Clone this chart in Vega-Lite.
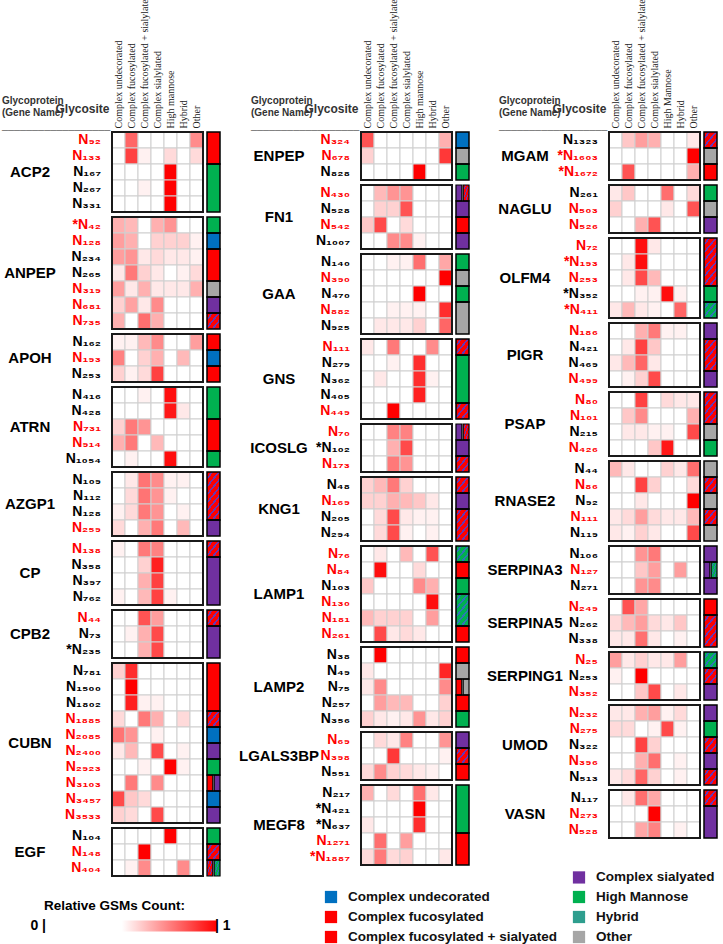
{
"$schema": "https://vega.github.io/schema/vega-lite/v6.json",
"padding": {"left": 2, "top": -7, "right": 2, "bottom": 0},
"background": "white",
"spacing": 17,
"config": {
 "font": "Liberation Sans",
 "view": {"stroke": null},
 "header": {"labels": false, "title": null},
 "legend": {"labelFont": "Liberation Sans", "titleFont": "Liberation Sans"}
},
"datasets": {"sites": [
{"col":1,"protein":"ACP2","site":"N₉₂","hl":true,"u":0,"f":0.78,"fs":0,"s":0,"m":0,"h":0,"o":0.7,"cls":"Complex fucosylated","to":"N₁₃₃"},
{"col":1,"protein":"ACP2","site":"N₁₃₃","hl":true,"u":0,"f":0.86,"fs":0.48,"s":0,"m":0.53,"h":0,"o":0.53,"cls":"Complex fucosylated"},
{"col":1,"protein":"ACP2","site":"N₁₆₇","hl":false,"u":0,"f":0,"fs":0,"s":0,"m":1,"h":0,"o":0,"cls":"High Mannose","to":"N₃₃₁"},
{"col":1,"protein":"ACP2","site":"N₂₆₇","hl":false,"u":0,"f":0,"fs":0.48,"s":0,"m":1,"h":0,"o":0,"cls":"High Mannose"},
{"col":1,"protein":"ACP2","site":"N₃₃₁","hl":false,"u":0,"f":0,"fs":0,"s":0,"m":1,"h":0,"o":0,"cls":"High Mannose"},
{"col":1,"protein":"ANPEP","site":"*N₄₂","hl":true,"u":0.62,"f":0.6,"fs":0,"s":0.62,"m":0.68,"h":0,"o":0,"cls":"High Mannose","to":"*N₄₂"},
{"col":1,"protein":"ANPEP","site":"N₁₂₈","hl":true,"u":0.66,"f":0.62,"fs":0,"s":0.55,"m":0.55,"h":0.55,"o":0.48,"cls":"Complex undecorated","to":"N₁₂₈"},
{"col":1,"protein":"ANPEP","site":"N₂₃₄","hl":false,"u":0.66,"f":0.68,"fs":0.5,"s":0.53,"m":0.5,"h":0.5,"o":0.48,"cls":"Complex fucosylated","to":"N₂₆₅"},
{"col":1,"protein":"ANPEP","site":"N₂₆₅","hl":false,"u":0.5,"f":0.74,"fs":0.55,"s":0.5,"m":0,"h":0.48,"o":0.53,"cls":"Complex fucosylated"},
{"col":1,"protein":"ANPEP","site":"N₃₁₉","hl":true,"u":0.66,"f":0.5,"fs":0.62,"s":0.5,"m":0.5,"h":0.5,"o":0.62,"cls":"Other","to":"N₃₁₉"},
{"col":1,"protein":"ANPEP","site":"N₆₈₁","hl":true,"u":0.55,"f":0.65,"fs":0.5,"s":0.7,"m":0,"h":0,"o":0,"cls":"Complex sialyated","to":"N₆₈₁"},
{"col":1,"protein":"ANPEP","site":"N₇₃₅","hl":true,"u":0.62,"f":0,"fs":0.76,"s":0.62,"m":0,"h":0,"o":0,"cls":"Complex fucosylated + sialyated","to":"N₇₃₅"},
{"col":1,"protein":"APOH","site":"N₁₆₂","hl":false,"u":0.48,"f":0.48,"fs":0.6,"s":0.7,"m":0,"h":0,"o":0.66,"cls":"Complex fucosylated","to":"N₁₆₂"},
{"col":1,"protein":"APOH","site":"N₁₉₃","hl":true,"u":0.72,"f":0,"fs":0.55,"s":0.62,"m":0,"h":0.6,"o":0,"cls":"Complex undecorated","to":"N₁₉₃"},
{"col":1,"protein":"APOH","site":"N₂₅₃","hl":false,"u":0.55,"f":0.48,"fs":0.53,"s":0.86,"m":0,"h":0,"o":0,"cls":"Complex fucosylated","to":"N₂₅₃"},
{"col":1,"protein":"ATRN","site":"N₄₁₆","hl":false,"u":0,"f":0,"fs":0.48,"s":0,"m":0.97,"h":0,"o":0,"cls":"High Mannose","to":"N₄₂₈"},
{"col":1,"protein":"ATRN","site":"N₄₂₈","hl":false,"u":0,"f":0,"fs":0,"s":0,"m":0.95,"h":0.5,"o":0,"cls":"High Mannose"},
{"col":1,"protein":"ATRN","site":"N₇₃₁","hl":true,"u":0.55,"f":0.74,"fs":0.68,"s":0,"m":0,"h":0,"o":0,"cls":"Complex fucosylated","to":"N₉₁₄"},
{"col":1,"protein":"ATRN","site":"N₉₁₄","hl":true,"u":0.62,"f":0.74,"fs":0,"s":0.6,"m":0,"h":0,"o":0,"cls":"Complex fucosylated"},
{"col":1,"protein":"ATRN","site":"N₁₀₅₄","hl":false,"u":0,"f":0.48,"fs":0,"s":0,"m":0.97,"h":0,"o":0,"cls":"High Mannose","to":"N₁₀₅₄"},
{"col":1,"protein":"AZGP1","site":"N₁₀₉","hl":false,"u":0,"f":0.5,"fs":0.75,"s":0.7,"m":0.48,"h":0.48,"o":0,"cls":"Complex fucosylated + sialyated","to":"N₁₂₈"},
{"col":1,"protein":"AZGP1","site":"N₁₁₂","hl":false,"u":0,"f":0.53,"fs":0.75,"s":0.68,"m":0.48,"h":0,"o":0,"cls":"Complex fucosylated + sialyated"},
{"col":1,"protein":"AZGP1","site":"N₁₂₈","hl":false,"u":0.48,"f":0.53,"fs":0.74,"s":0.68,"m":0,"h":0.48,"o":0,"cls":"Complex fucosylated + sialyated"},
{"col":1,"protein":"AZGP1","site":"N₂₅₉","hl":true,"u":0.53,"f":0,"fs":0.62,"s":0.74,"m":0,"h":0.6,"o":0,"cls":"Complex sialyated","to":"N₂₅₉"},
{"col":1,"protein":"CP","site":"N₁₃₈","hl":true,"u":0.48,"f":0,"fs":0.74,"s":0.72,"m":0,"h":0,"o":0,"cls":"Complex fucosylated + sialyated","to":"N₁₃₈"},
{"col":1,"protein":"CP","site":"N₃₅₈","hl":false,"u":0,"f":0,"fs":0.55,"s":0.93,"m":0,"h":0,"o":0,"cls":"Complex sialyated","to":"N₇₆₂"},
{"col":1,"protein":"CP","site":"N₃₉₇","hl":false,"u":0,"f":0,"fs":0.62,"s":0.86,"m":0,"h":0,"o":0,"cls":"Complex sialyated"},
{"col":1,"protein":"CP","site":"N₇₆₂","hl":false,"u":0.48,"f":0,"fs":0.6,"s":0.86,"m":0.48,"h":0,"o":0,"cls":"Complex sialyated"},
{"col":1,"protein":"CPB2","site":"N₄₄","hl":true,"u":0,"f":0,"fs":0.82,"s":0.66,"m":0,"h":0,"o":0,"cls":"Complex fucosylated + sialyated","to":"N₄₄"},
{"col":1,"protein":"CPB2","site":"N₇₃","hl":false,"u":0,"f":0.48,"fs":0.62,"s":0.84,"m":0,"h":0,"o":0,"cls":"Complex sialyated","to":"*N₂₃₅"},
{"col":1,"protein":"CPB2","site":"*N₂₃₅","hl":false,"u":0,"f":0,"fs":0.62,"s":0.84,"m":0,"h":0,"o":0,"cls":"Complex sialyated"},
{"col":1,"protein":"CUBN","site":"N₇₈₁","hl":false,"u":0.55,"f":0.9,"fs":0,"s":0,"m":0,"h":0,"o":0,"cls":"Complex fucosylated","to":"N₁₈₀₂"},
{"col":1,"protein":"CUBN","site":"N₁₅₀₀","hl":false,"u":0,"f":1,"fs":0,"s":0,"m":0,"h":0,"o":0,"cls":"Complex fucosylated"},
{"col":1,"protein":"CUBN","site":"N₁₈₀₂","hl":false,"u":0,"f":0.93,"fs":0.48,"s":0.48,"m":0,"h":0,"o":0,"cls":"Complex fucosylated"},
{"col":1,"protein":"CUBN","site":"N₁₈₈₅","hl":true,"u":0.53,"f":0,"fs":0.74,"s":0.62,"m":0,"h":0.53,"o":0,"cls":"Complex fucosylated + sialyated","to":"N₁₈₈₅"},
{"col":1,"protein":"CUBN","site":"N₂₀₈₅","hl":true,"u":0.75,"f":0.68,"fs":0,"s":0.48,"m":0,"h":0,"o":0,"cls":"Complex undecorated","to":"N₂₀₈₅"},
{"col":1,"protein":"CUBN","site":"N₂₄₀₀","hl":true,"u":0.5,"f":0.6,"fs":0,"s":0.84,"m":0,"h":0.48,"o":0,"cls":"Complex sialyated","to":"N₂₄₀₀"},
{"col":1,"protein":"CUBN","site":"N₂₉₂₃","hl":true,"u":0,"f":0,"fs":0.48,"s":0,"m":1,"h":0.48,"o":0,"cls":"High Mannose","to":"N₂₉₂₃"},
{"col":1,"protein":"CUBN","site":"N₃₁₀₃","hl":true,"u":0,"f":0.74,"fs":0,"s":0.7,"m":0,"h":0,"o":0,"cls":"Complex fucosylated","cls2":"Complex sialyated"},
{"col":1,"protein":"CUBN","site":"N₃₄₅₇","hl":true,"u":0.84,"f":0.57,"fs":0.53,"s":0,"m":0,"h":0,"o":0,"cls":"Complex undecorated","to":"N₃₄₅₇"},
{"col":1,"protein":"CUBN","site":"N₃₅₃₃","hl":true,"u":0.55,"f":0.53,"fs":0,"s":0.84,"m":0,"h":0,"o":0,"cls":"Complex sialyated","to":"N₃₅₃₃"},
{"col":1,"protein":"EGF","site":"N₁₀₄","hl":false,"u":0,"f":0,"fs":0,"s":0,"m":1,"h":0,"o":0,"cls":"High Mannose","to":"N₁₀₄"},
{"col":1,"protein":"EGF","site":"N₁₄₈","hl":true,"u":0,"f":0,"fs":1,"s":0,"m":0,"h":0,"o":0,"cls":"Complex fucosylated + sialyated","to":"N₁₄₈"},
{"col":1,"protein":"EGF","site":"N₄₀₄","hl":true,"u":0,"f":0.48,"fs":0.7,"s":0,"m":0,"h":0.7,"o":0,"cls":"Complex fucosylated + sialyated","cls2":"Hybrid"},
{"col":2,"protein":"ENPEP","site":"N₃₂₄","hl":true,"u":0.82,"f":0,"fs":0,"s":0,"m":0,"h":0,"o":0.62,"cls":"Complex undecorated","to":"N₃₂₄"},
{"col":2,"protein":"ENPEP","site":"N₆₇₈","hl":true,"u":0.55,"f":0,"fs":0,"s":0,"m":0,"h":0,"o":0.88,"cls":"Other","to":"N₆₇₈"},
{"col":2,"protein":"ENPEP","site":"N₈₂₈","hl":false,"u":0,"f":0,"fs":0,"s":0,"m":1,"h":0,"o":0,"cls":"High Mannose","to":"N₈₂₈"},
{"col":2,"protein":"FN1","site":"N₄₃₀","hl":true,"u":0,"f":0.6,"fs":0.68,"s":0.68,"m":0,"h":0,"o":0,"cls":"Complex sialyated","cls2":"Complex fucosylated + sialyated"},
{"col":2,"protein":"FN1","site":"N₅₂₈","hl":false,"u":0,"f":0.55,"fs":0.55,"s":0.82,"m":0,"h":0,"o":0,"cls":"Complex sialyated","to":"N₅₂₈"},
{"col":2,"protein":"FN1","site":"N₅₄₂","hl":true,"u":0.57,"f":0.84,"fs":0,"s":0.53,"m":0,"h":0,"o":0,"cls":"Complex fucosylated","to":"N₅₄₂"},
{"col":2,"protein":"FN1","site":"N₁₀₀₇","hl":false,"u":0,"f":0,"fs":0.7,"s":0.7,"m":0.48,"h":0,"o":0,"cls":"Complex sialyated","to":"N₁₀₀₇"},
{"col":2,"protein":"GAA","site":"N₁₄₀","hl":false,"u":0,"f":0,"fs":0.48,"s":0.48,"m":0.76,"h":0,"o":0.64,"cls":"High Mannose","to":"N₁₄₀"},
{"col":2,"protein":"GAA","site":"N₃₉₀","hl":true,"u":0,"f":0,"fs":0,"s":0,"m":0,"h":0,"o":1,"cls":"Other","to":"N₃₉₀"},
{"col":2,"protein":"GAA","site":"N₄₇₀","hl":false,"u":0,"f":0,"fs":0,"s":0,"m":1,"h":0,"o":0,"cls":"High Mannose","to":"N₄₇₀"},
{"col":2,"protein":"GAA","site":"N₈₈₂","hl":true,"u":0,"f":0,"fs":0.48,"s":0.48,"m":0.48,"h":0,"o":0.9,"cls":"Other","to":"N₉₂₅"},
{"col":2,"protein":"GAA","site":"N₉₂₅","hl":false,"u":0,"f":0.5,"fs":0.5,"s":0.5,"m":0.55,"h":0,"o":0.78,"cls":"Other"},
{"col":2,"protein":"GNS","site":"N₁₁₁","hl":true,"u":0.5,"f":0,"fs":0.74,"s":0,"m":0,"h":0.7,"o":0,"cls":"Complex fucosylated + sialyated","to":"N₁₁₁"},
{"col":2,"protein":"GNS","site":"N₂₇₉","hl":false,"u":0,"f":0,"fs":0.48,"s":0,"m":0.9,"h":0,"o":0,"cls":"High Mannose","to":"N₄₀₅"},
{"col":2,"protein":"GNS","site":"N₃₆₂","hl":false,"u":0,"f":0.5,"fs":0,"s":0,"m":0.9,"h":0.48,"o":0,"cls":"High Mannose"},
{"col":2,"protein":"GNS","site":"N₄₀₅","hl":false,"u":0,"f":0,"fs":0,"s":0,"m":0.93,"h":0,"o":0,"cls":"High Mannose"},
{"col":2,"protein":"GNS","site":"N₄₄₉","hl":true,"u":0,"f":0,"fs":1,"s":0,"m":0,"h":0,"o":0,"cls":"Complex fucosylated + sialyated","to":"N₄₄₉"},
{"col":2,"protein":"ICOSLG","site":"N₇₀","hl":true,"u":0,"f":0,"fs":0.72,"s":0.72,"m":0,"h":0,"o":0,"cls":"Complex sialyated","cls2":"Complex fucosylated + sialyated"},
{"col":2,"protein":"ICOSLG","site":"*N₁₀₂","hl":false,"u":0,"f":0,"fs":0.62,"s":0.84,"m":0,"h":0,"o":0,"cls":"Complex sialyated","to":"*N₁₀₂"},
{"col":2,"protein":"ICOSLG","site":"N₁₇₃","hl":true,"u":0,"f":0,"fs":0.74,"s":0.68,"m":0,"h":0,"o":0,"cls":"Complex fucosylated + sialyated","to":"N₁₇₃"},
{"col":2,"protein":"KNG1","site":"N₄₈","hl":false,"u":0.55,"f":0.6,"fs":0.74,"s":0.55,"m":0,"h":0,"o":0,"cls":"Complex fucosylated + sialyated","to":"N₄₈"},
{"col":2,"protein":"KNG1","site":"N₁₆₉","hl":true,"u":0.55,"f":0.55,"fs":0.62,"s":0.6,"m":0.57,"h":0.5,"o":0,"cls":"Complex sialyated","to":"N₁₆₉"},
{"col":2,"protein":"KNG1","site":"N₂₀₅","hl":false,"u":0,"f":0.53,"fs":0.84,"s":0.5,"m":0.48,"h":0.48,"o":0,"cls":"Complex fucosylated + sialyated","to":"N₂₉₄"},
{"col":2,"protein":"KNG1","site":"N₂₉₄","hl":false,"u":0,"f":0.53,"fs":0.84,"s":0.48,"m":0,"h":0.48,"o":0,"cls":"Complex fucosylated + sialyated"},
{"col":2,"protein":"LAMP1","site":"N₇₆","hl":true,"u":0,"f":0.5,"fs":0,"s":0.6,"m":0,"h":0.82,"o":0,"cls":"Hybrid","to":"N₇₆"},
{"col":2,"protein":"LAMP1","site":"N₈₄","hl":true,"u":0,"f":0.97,"fs":0,"s":0,"m":0.53,"h":0,"o":0,"cls":"Complex fucosylated","to":"N₈₄"},
{"col":2,"protein":"LAMP1","site":"N₁₀₃","hl":false,"u":0.57,"f":0,"fs":0,"s":0,"m":0.7,"h":0.62,"o":0,"cls":"High Mannose","to":"N₁₀₃"},
{"col":2,"protein":"LAMP1","site":"N₁₃₀","hl":true,"u":0,"f":0,"fs":0,"s":0,"m":0,"h":0.97,"o":0,"cls":"Hybrid","to":"N₁₈₁"},
{"col":2,"protein":"LAMP1","site":"N₁₈₁","hl":true,"u":0.6,"f":0.55,"fs":0.55,"s":0.55,"m":0,"h":0.66,"o":0,"cls":"Hybrid"},
{"col":2,"protein":"LAMP1","site":"N₂₆₁","hl":true,"u":0,"f":0.84,"fs":0.5,"s":0.53,"m":0.5,"h":0,"o":0,"cls":"Complex fucosylated","to":"N₂₆₁"},
{"col":2,"protein":"LAMP2","site":"N₃₈","hl":false,"u":0,"f":1,"fs":0,"s":0,"m":0,"h":0,"o":0,"cls":"Complex fucosylated","to":"N₃₈"},
{"col":2,"protein":"LAMP2","site":"N₄₉","hl":false,"u":0.5,"f":0,"fs":0,"s":0,"m":0,"h":0,"o":0.92,"cls":"Other","to":"N₄₉"},
{"col":2,"protein":"LAMP2","site":"N₇₅","hl":false,"u":0.5,"f":0.7,"fs":0,"s":0,"m":0,"h":0,"o":0.7,"cls":"Complex fucosylated","cls2":"Other"},
{"col":2,"protein":"LAMP2","site":"N₂₅₇","hl":false,"u":0,"f":0.66,"fs":0.6,"s":0.6,"m":0,"h":0,"o":0.55,"cls":"Complex fucosylated","to":"N₂₅₇"},
{"col":2,"protein":"LAMP2","site":"N₃₅₆","hl":false,"u":0.55,"f":0.5,"fs":0.48,"s":0.5,"m":0.68,"h":0.5,"o":0.55,"cls":"High Mannose","to":"N₃₅₆"},
{"col":2,"protein":"LGALS3BP","site":"N₆₉","hl":true,"u":0,"f":0.53,"fs":0.5,"s":0.72,"m":0,"h":0,"o":0.68,"cls":"Complex sialyated","to":"N₆₉"},
{"col":2,"protein":"LGALS3BP","site":"N₃₉₈","hl":true,"u":0,"f":0,"fs":0.88,"s":0,"m":0,"h":0,"o":0.48,"cls":"Complex fucosylated + sialyated","to":"N₃₉₈"},
{"col":2,"protein":"LGALS3BP","site":"N₅₅₁","hl":false,"u":0.53,"f":0.7,"fs":0.55,"s":0.53,"m":0.5,"h":0.48,"o":0,"cls":"Complex fucosylated","to":"N₅₅₁"},
{"col":2,"protein":"MEGF8","site":"N₂₁₇","hl":false,"u":0.62,"f":0,"fs":0.53,"s":0,"m":0.76,"h":0.5,"o":0,"cls":"High Mannose","to":"*N₆₃₇"},
{"col":2,"protein":"MEGF8","site":"*N₄₂₁","hl":false,"u":0,"f":0,"fs":0,"s":0,"m":1,"h":0,"o":0,"cls":"High Mannose"},
{"col":2,"protein":"MEGF8","site":"*N₆₃₇","hl":false,"u":0.5,"f":0,"fs":0,"s":0,"m":0.9,"h":0,"o":0,"cls":"High Mannose"},
{"col":2,"protein":"MEGF8","site":"N₁₂₇₁","hl":true,"u":0,"f":0.76,"fs":0,"s":0.66,"m":0,"h":0,"o":0,"cls":"Complex fucosylated","to":"*N₁₈₈₇"},
{"col":2,"protein":"MEGF8","site":"*N₁₈₈₇","hl":true,"u":0.53,"f":0.74,"fs":0.53,"s":0.55,"m":0,"h":0,"o":0.5,"cls":"Complex fucosylated"},
{"col":3,"protein":"MGAM","site":"N₁₃₂₃","hl":false,"u":0,"f":0.57,"fs":0.66,"s":0.62,"m":0,"h":0,"o":0.5,"cls":"Complex fucosylated + sialyated","to":"N₁₃₂₃"},
{"col":3,"protein":"MGAM","site":"*N₁₆₀₃","hl":true,"u":0,"f":0,"fs":0,"s":0,"m":0,"h":0,"o":1,"cls":"Other","to":"*N₁₆₀₃"},
{"col":3,"protein":"MGAM","site":"*N₁₆₇₂","hl":true,"u":0,"f":0.82,"fs":0,"s":0,"m":0,"h":0,"o":0.62,"cls":"Complex fucosylated","to":"*N₁₆₇₂"},
{"col":3,"protein":"NAGLU","site":"N₂₆₁","hl":false,"u":0.5,"f":0.57,"fs":0,"s":0,"m":0.76,"h":0,"o":0.53,"cls":"High Mannose","to":"N₂₆₁"},
{"col":3,"protein":"NAGLU","site":"N₅₀₃","hl":true,"u":0.55,"f":0,"fs":0,"s":0,"m":0.5,"h":0,"o":0.82,"cls":"Other","to":"N₅₀₃"},
{"col":3,"protein":"NAGLU","site":"N₅₂₆","hl":true,"u":0,"f":0,"fs":0.62,"s":0.82,"m":0,"h":0,"o":0,"cls":"Complex sialyated","to":"N₅₂₆"},
{"col":3,"protein":"OLFM4","site":"N₇₂","hl":true,"u":0,"f":0,"fs":0.97,"s":0.5,"m":0,"h":0,"o":0,"cls":"Complex fucosylated + sialyated","to":"N₂₅₃"},
{"col":3,"protein":"OLFM4","site":"*N₁₉₃","hl":true,"u":0,"f":0.5,"fs":0.97,"s":0,"m":0,"h":0,"o":0,"cls":"Complex fucosylated + sialyated"},
{"col":3,"protein":"OLFM4","site":"N₂₅₃","hl":true,"u":0,"f":0.5,"fs":0.84,"s":0.6,"m":0,"h":0,"o":0,"cls":"Complex fucosylated + sialyated"},
{"col":3,"protein":"OLFM4","site":"*N₃₅₂","hl":false,"u":0,"f":0,"fs":0.48,"s":0.48,"m":0.97,"h":0.48,"o":0,"cls":"High Mannose","to":"*N₃₅₂"},
{"col":3,"protein":"OLFM4","site":"*N₄₁₁","hl":true,"u":0.5,"f":0.6,"fs":0.5,"s":0.48,"m":0,"h":0.78,"o":0,"cls":"Hybrid","to":"*N₄₁₁"},
{"col":3,"protein":"PIGR","site":"N₁₈₆","hl":true,"u":0,"f":0,"fs":0.62,"s":0.74,"m":0.48,"h":0.48,"o":0,"cls":"Complex sialyated","to":"N₁₈₆"},
{"col":3,"protein":"PIGR","site":"N₄₂₁","hl":false,"u":0,"f":0.5,"fs":0.86,"s":0.57,"m":0,"h":0,"o":0,"cls":"Complex fucosylated + sialyated","to":"N₄₆₉"},
{"col":3,"protein":"PIGR","site":"N₄₆₉","hl":false,"u":0.5,"f":0.6,"fs":0.78,"s":0.5,"m":0,"h":0,"o":0,"cls":"Complex fucosylated + sialyated"},
{"col":3,"protein":"PIGR","site":"N₄₉₉","hl":true,"u":0,"f":0.48,"fs":0.55,"s":0.84,"m":0,"h":0,"o":0,"cls":"Complex sialyated","to":"N₄₉₉"},
{"col":3,"protein":"PSAP","site":"N₈₀","hl":true,"u":0,"f":0,"fs":0.86,"s":0,"m":0.53,"h":0.5,"o":0.5,"cls":"Complex fucosylated + sialyated","to":"N₁₀₁"},
{"col":3,"protein":"PSAP","site":"N₁₀₁","hl":true,"u":0,"f":0.57,"fs":0.7,"s":0,"m":0,"h":0,"o":0.62,"cls":"Complex fucosylated + sialyated"},
{"col":3,"protein":"PSAP","site":"N₂₁₅","hl":false,"u":0,"f":0.5,"fs":0.5,"s":0.48,"m":0.48,"h":0,"o":0.84,"cls":"Other","to":"N₂₁₅"},
{"col":3,"protein":"PSAP","site":"N₄₂₆","hl":true,"u":0,"f":0,"fs":0,"s":0.57,"m":0.95,"h":0,"o":0,"cls":"High Mannose","to":"N₄₂₆"},
{"col":3,"protein":"RNASE2","site":"N₄₄","hl":false,"u":0.6,"f":0.5,"fs":0,"s":0,"m":0.55,"h":0.5,"o":0.76,"cls":"Other","to":"N₄₄"},
{"col":3,"protein":"RNASE2","site":"N₈₆","hl":true,"u":0,"f":0,"fs":0.86,"s":0.55,"m":0,"h":0,"o":0.53,"cls":"Complex fucosylated + sialyated","to":"N₈₆"},
{"col":3,"protein":"RNASE2","site":"N₉₂","hl":false,"u":0,"f":0,"fs":0.5,"s":0,"m":0,"h":0,"o":1,"cls":"Other","to":"N₉₂"},
{"col":3,"protein":"RNASE2","site":"N₁₁₁","hl":true,"u":0.5,"f":0.53,"fs":0.66,"s":0.53,"m":0.5,"h":0.5,"o":0.6,"cls":"Complex fucosylated + sialyated","to":"N₁₁₁"},
{"col":3,"protein":"RNASE2","site":"N₁₁₉","hl":false,"u":0.5,"f":0.48,"fs":0.55,"s":0.5,"m":0,"h":0,"o":0.84,"cls":"Other","to":"N₁₁₉"},
{"col":3,"protein":"SERPINA3","site":"N₁₀₆","hl":false,"u":0,"f":0,"fs":0.68,"s":0.74,"m":0,"h":0,"o":0,"cls":"Complex sialyated","to":"N₁₀₆"},
{"col":3,"protein":"SERPINA3","site":"N₁₂₇","hl":true,"u":0,"f":0,"fs":0.57,"s":0.66,"m":0,"h":0.66,"o":0,"cls":"Complex sialyated","cls2":"Hybrid"},
{"col":3,"protein":"SERPINA3","site":"N₂₇₁","hl":false,"u":0,"f":0,"fs":0.68,"s":0.7,"m":0,"h":0,"o":0,"cls":"Complex sialyated","to":"N₂₇₁"},
{"col":3,"protein":"SERPINA5","site":"N₂₄₉","hl":true,"u":0,"f":0.82,"fs":0.64,"s":0,"m":0,"h":0,"o":0,"cls":"Complex fucosylated","to":"N₂₄₉"},
{"col":3,"protein":"SERPINA5","site":"N₂₆₂","hl":false,"u":0.53,"f":0.6,"fs":0.66,"s":0.53,"m":0.5,"h":0.57,"o":0,"cls":"Complex fucosylated + sialyated","to":"N₃₃₈"},
{"col":3,"protein":"SERPINA5","site":"N₃₃₈","hl":false,"u":0.5,"f":0.5,"fs":0.76,"s":0.5,"m":0,"h":0.48,"o":0,"cls":"Complex fucosylated + sialyated"},
{"col":3,"protein":"SERPING1","site":"N₂₅","hl":true,"u":0.66,"f":0.5,"fs":0.55,"s":0.5,"m":0.5,"h":0.66,"o":0,"cls":"Hybrid","to":"N₂₅"},
{"col":3,"protein":"SERPING1","site":"N₂₅₃","hl":false,"u":0.48,"f":0,"fs":1,"s":0,"m":0,"h":0,"o":0,"cls":"Complex fucosylated + sialyated","to":"N₂₅₃"},
{"col":3,"protein":"SERPING1","site":"N₃₅₂","hl":true,"u":0,"f":0,"fs":0.57,"s":0.84,"m":0,"h":0.5,"o":0,"cls":"Complex sialyated","to":"N₃₅₂"},
{"col":3,"protein":"UMOD","site":"N₂₃₂","hl":true,"u":0.5,"f":0.5,"fs":0.62,"s":0.66,"m":0.48,"h":0.53,"o":0,"cls":"Complex sialyated","to":"N₂₃₂"},
{"col":3,"protein":"UMOD","site":"N₂₇₅","hl":true,"u":0.53,"f":0.53,"fs":0,"s":0.48,"m":0.84,"h":0.48,"o":0,"cls":"High Mannose","to":"N₂₇₅"},
{"col":3,"protein":"UMOD","site":"N₃₂₂","hl":false,"u":0,"f":0,"fs":0.86,"s":0.55,"m":0,"h":0,"o":0,"cls":"Complex fucosylated + sialyated","to":"N₃₂₂"},
{"col":3,"protein":"UMOD","site":"N₃₉₆","hl":true,"u":0,"f":0,"fs":0.62,"s":0.76,"m":0,"h":0.48,"o":0,"cls":"Complex sialyated","to":"N₃₉₆"},
{"col":3,"protein":"UMOD","site":"N₅₁₃","hl":false,"u":0.5,"f":0.53,"fs":0.78,"s":0.55,"m":0,"h":0.48,"o":0,"cls":"Complex fucosylated + sialyated","to":"N₅₁₃"},
{"col":3,"protein":"VASN","site":"N₁₁₇","hl":false,"u":0,"f":0.5,"fs":0.76,"s":0.64,"m":0,"h":0,"o":0,"cls":"Complex fucosylated + sialyated","to":"N₁₁₇"},
{"col":3,"protein":"VASN","site":"N₂₇₃","hl":true,"u":0,"f":0,"fs":0,"s":1,"m":0,"h":0,"o":0,"cls":"Complex sialyated","to":"N₅₂₈"},
{"col":3,"protein":"VASN","site":"N₅₂₈","hl":true,"u":0,"f":0,"fs":0.64,"s":0.72,"m":0,"h":0.48,"o":0,"cls":"Complex sialyated"}
]},
"hconcat": [
 {"data": {"name": "sites"}, "transform": [{"filter": "datum.col == 1"}],
  "title": {"text": ["Glycoprotein", "(Gene Name)"], "subtitle": "──────────────────", "anchor": "start", "frame": "group", "fontSize": 10, "fontWeight": "bold", "color": "#333", "lineHeight": 12, "subtitleFont": "DejaVu Sans", "subtitleFontSize": 10, "subtitleColor": "#777", "subtitlePadding": 8, "dx": -110, "dy": 142, "offset": 0},
  "facet": {"row": {"field": "protein", "type": "nominal", "title": null, "header": {"labels": false}}},
  "spacing": 3,
  "resolve": {"scale": {"y": "independent"}},
  "spec": {"width": 91, "height": {"step": 16}, "layer": [
   {"transform": [{"fold": ["u","f","fs","s","m","h","o"], "as": ["cat","value"]}],
    "mark": {"type": "rect", "stroke": "#cfcfcf", "strokeWidth": 1},
    "encoding": {
     "x": {"field": "cat", "type": "nominal", "scale": {"domain": ["u","f","fs","s","m","h","o"], "paddingInner": 0, "paddingOuter": 0},
           "axis": {"orient": "top", "labelAngle": -90, "labelAlign": "left", "labelBaseline": "middle", "ticks": false, "domain": false, "labelPadding": 3, "labelFontSize": 10, "labelFont": "Liberation Sans Narrow", "labelColor": "#222", "labelLimit": 0,
                    "labelExpr": "datum.value=='u'?'Complex undecorated':datum.value=='f'?'Complex fucosylated':datum.value=='fs'?'Complex fucosylated + sialylated':datum.value=='s'?'Complex sialylated':datum.value=='m'?'High mannose':datum.value=='h'?'Hybrid':'Other'",
                    "title": "Glycosite", "titleAngle": 0, "titleX": -3, "titleY": -23, "titleAlign": "right", "titleBaseline": "middle", "titleFontSize": 12, "titleFontWeight": "bold", "titleColor": "#333"}},
     "y": {"field": "site", "type": "nominal", "sort": null, "scale": {"paddingInner": 0, "paddingOuter": 0}, "axis": null},
     "color": {"field": "value", "type": "quantitative", "scale": {"domain": [0, 0.45, 1], "range": ["#ffffff", "#ffffff", "#ff0000"], "interpolate": "rgb"},
               "legend": {"orient": "none", "legendX": -68, "legendY": 767, "padding": 0, "direction": "horizontal", "title": "Relative GSMs Count:", "titleFontSize": 13.5, "titleFontWeight": "bold", "titleColor": "black", "titlePadding": 8, "gradientLength": 173, "gradientThickness": 11, "gradientStrokeWidth": 0, "values": [0, 1], "labelFontSize": 14, "labelFontWeight": "bold", "labelColor": "black",
                          "labelExpr": "datum.value < 0.5 ? '0 |' : '| 1'",
                          "encode": {"labels": {"update": {"baseline": {"value": "middle"}, "y": {"value": 5.5}, "align": {"signal": "datum.value < 0.5 ? 'right' : 'left'"}, "dx": {"signal": "datum.value < 0.5 ? 2 : -2"}}}}}}
    }},
   {"transform": [{"aggregate": [{"op": "count", "as": "n"}]}], "mark": {"type": "rect", "filled": false, "stroke": "#1a1a1a", "strokeWidth": 2}, "encoding": {}},
   {"transform": [{"window": [{"op": "row_number", "as": "r"}], "groupby": ["protein"]}, {"joinaggregate": [{"op": "count", "as": "n"}], "groupby": ["protein"]}, {"filter": "datum.r == floor(datum.n / 2) + 1 && datum.n % 2 == 1"}],
    "mark": {"type": "text", "align": "center", "baseline": "middle", "dx": -82, "fontSize": 15, "fontWeight": "bold", "color": "black"},
    "encoding": {"x": {"datum": "u", "bandPosition": 0}, "y": {"field": "site", "type": "nominal", "sort": null, "bandPosition": 0.5}, "text": {"field": "protein"}}},
   {"transform": [{"window": [{"op": "row_number", "as": "r"}], "groupby": ["protein"]}, {"joinaggregate": [{"op": "count", "as": "n"}], "groupby": ["protein"]}, {"filter": "datum.r == floor(datum.n / 2) + 1 && datum.n % 2 == 0"}],
    "mark": {"type": "text", "align": "center", "baseline": "middle", "dx": -82, "fontSize": 15, "fontWeight": "bold", "color": "black"},
    "encoding": {"x": {"datum": "u", "bandPosition": 0}, "y": {"field": "site", "type": "nominal", "sort": null, "bandPosition": 0}, "text": {"field": "protein"}}},
   {"mark": {"type": "text", "align": "right", "baseline": "middle", "dx": -11, "fontSize": 14, "fontWeight": "bold"},
    "encoding": {"x": {"datum": "u", "bandPosition": 0}, "y": {"field": "site", "type": "nominal", "sort": null}, "text": {"field": "site"},
                 "color": {"condition": {"test": "datum.hl", "value": "#ff0000"}, "value": "#000000"}}},
   {"transform": [{"filter": "!datum.cls2"}], "mark": {"type": "rect", "xOffset": 17},
    "encoding": {"x": {"datum": "o"},
                 "y": {"field": "site", "type": "nominal", "sort": null},
                 "fill": {"condition": [{"test": "datum.cls == 'Complex fucosylated + sialyated'", "value": {"gradient":"linear","x1":0,"y1":0,"x2":1,"y2":1,"stops":[{"offset":0,"color":"#ff0000"},{"offset":0.17,"color":"#ff0000"},{"offset":0.17,"color":"#6a35b0"},{"offset":0.25,"color":"#6a35b0"},{"offset":0.25,"color":"#ff0000"},{"offset":0.42,"color":"#ff0000"},{"offset":0.42,"color":"#6a35b0"},{"offset":0.5,"color":"#6a35b0"},{"offset":0.5,"color":"#ff0000"},{"offset":0.67,"color":"#ff0000"},{"offset":0.67,"color":"#6a35b0"},{"offset":0.75,"color":"#6a35b0"},{"offset":0.75,"color":"#ff0000"},{"offset":0.92,"color":"#ff0000"},{"offset":0.92,"color":"#6a35b0"},{"offset":1,"color":"#6a35b0"}]}},
                                        {"test": "datum.cls == 'Hybrid'", "value": {"gradient":"linear","x1":0,"y1":0,"x2":1,"y2":1,"stops":[{"offset":0,"color":"#00b050"},{"offset":0.17,"color":"#00b050"},{"offset":0.17,"color":"#2e75b6"},{"offset":0.25,"color":"#2e75b6"},{"offset":0.25,"color":"#00b050"},{"offset":0.42,"color":"#00b050"},{"offset":0.42,"color":"#2e75b6"},{"offset":0.5,"color":"#2e75b6"},{"offset":0.5,"color":"#00b050"},{"offset":0.67,"color":"#00b050"},{"offset":0.67,"color":"#2e75b6"},{"offset":0.75,"color":"#2e75b6"},{"offset":0.75,"color":"#00b050"},{"offset":0.92,"color":"#00b050"},{"offset":0.92,"color":"#2e75b6"},{"offset":1,"color":"#2e75b6"}]}}],
                          "field": "cls", "type": "nominal",
                          "scale": {"domain": [" ","Complex undecorated","Complex fucosylated","Complex fucosylated + sialyated","Complex sialyated","High Mannose","Hybrid","Other"], "range": ["#ffffff","#0070c0","#ff0000","#ff0000","#7030a0","#00b050","#2e9e8e","#a6a6a6"]},
                          "legend": {"orient": "none", "legendX": 212, "legendY": 738, "padding": 0, "title": null, "columns": 2, "columnPadding": 12, "values": [" ","Complex undecorated","Complex fucosylated","Complex fucosylated + sialyated","Complex sialyated","High Mannose","Hybrid","Other"], "symbolType": "square", "symbolSize": 150, "symbolStrokeColor": "black", "symbolStrokeWidth": 1.5, "labelFontSize": 13.5, "labelFontWeight": "bold", "labelColor": "#111", "rowPadding": 0, "labelOffset": 10, "labelLimit": 0,
                                     "encode": {"symbols": {"update": {"opacity": {"signal": "datum.label == ' ' ? 0 : 1"}, "fill": {"signal": "datum.label=='Complex fucosylated + sialyated'?{gradient:'linear',x1:0,y1:0,x2:1,y2:1,stops:[{offset:0,color:'#ff0000'},{offset:0.17,color:'#ff0000'},{offset:0.17,color:'#6a35b0'},{offset:0.25,color:'#6a35b0'},{offset:0.25,color:'#ff0000'},{offset:0.42,color:'#ff0000'},{offset:0.42,color:'#6a35b0'},{offset:0.5,color:'#6a35b0'},{offset:0.5,color:'#ff0000'},{offset:0.67,color:'#ff0000'},{offset:0.67,color:'#6a35b0'},{offset:0.75,color:'#6a35b0'},{offset:0.75,color:'#ff0000'},{offset:0.92,color:'#ff0000'},{offset:0.92,color:'#6a35b0'},{offset:1,color:'#6a35b0'}]}:datum.label=='Hybrid'?{gradient:'linear',x1:0,y1:0,x2:1,y2:1,stops:[{offset:0,color:'#00b050'},{offset:0.17,color:'#00b050'},{offset:0.17,color:'#2e75b6'},{offset:0.25,color:'#2e75b6'},{offset:0.25,color:'#00b050'},{offset:0.42,color:'#00b050'},{offset:0.42,color:'#2e75b6'},{offset:0.5,color:'#2e75b6'},{offset:0.5,color:'#00b050'},{offset:0.67,color:'#00b050'},{offset:0.67,color:'#2e75b6'},{offset:0.75,color:'#2e75b6'},{offset:0.75,color:'#00b050'},{offset:0.92,color:'#00b050'},{offset:0.92,color:'#2e75b6'},{offset:1,color:'#2e75b6'}]}:datum.label=='Complex undecorated'?'#0070c0':datum.label=='Complex fucosylated'?'#ff0000':datum.label=='Complex sialyated'?'#7030a0':datum.label=='High Mannose'?'#00b050':datum.label=='Other'?'#a6a6a6':'#ffffff'"}}}}}}}},
   {"transform": [{"filter": "datum.cls2"}], "mark": {"type": "rect", "xOffset": 13.4, "width": {"band": 0.45}, "stroke": "black", "strokeWidth": 1.2},
    "encoding": {"x": {"datum": "o"}, "y": {"field": "site", "type": "nominal", "sort": null},
                 "fill": {"condition": [{"test": "datum.cls == 'Complex fucosylated + sialyated'", "value": {"gradient":"linear","x1":0,"y1":0,"x2":1,"y2":1,"stops":[{"offset":0,"color":"#ff0000"},{"offset":0.17,"color":"#ff0000"},{"offset":0.17,"color":"#6a35b0"},{"offset":0.25,"color":"#6a35b0"},{"offset":0.25,"color":"#ff0000"},{"offset":0.42,"color":"#ff0000"},{"offset":0.42,"color":"#6a35b0"},{"offset":0.5,"color":"#6a35b0"},{"offset":0.5,"color":"#ff0000"},{"offset":0.67,"color":"#ff0000"},{"offset":0.67,"color":"#6a35b0"},{"offset":0.75,"color":"#6a35b0"},{"offset":0.75,"color":"#ff0000"},{"offset":0.92,"color":"#ff0000"},{"offset":0.92,"color":"#6a35b0"},{"offset":1,"color":"#6a35b0"}]}}],
                          "field": "cls", "type": "nominal"}}},
   {"transform": [{"filter": "datum.cls2"}], "mark": {"type": "rect", "xOffset": 20.6, "width": {"band": 0.45}, "stroke": "black", "strokeWidth": 1.2},
    "encoding": {"x": {"datum": "o"}, "y": {"field": "site", "type": "nominal", "sort": null},
                 "fill": {"condition": [{"test": "datum.cls2 == 'Complex fucosylated + sialyated'", "value": {"gradient":"linear","x1":0,"y1":0,"x2":1,"y2":1,"stops":[{"offset":0,"color":"#ff0000"},{"offset":0.17,"color":"#ff0000"},{"offset":0.17,"color":"#6a35b0"},{"offset":0.25,"color":"#6a35b0"},{"offset":0.25,"color":"#ff0000"},{"offset":0.42,"color":"#ff0000"},{"offset":0.42,"color":"#6a35b0"},{"offset":0.5,"color":"#6a35b0"},{"offset":0.5,"color":"#ff0000"},{"offset":0.67,"color":"#ff0000"},{"offset":0.67,"color":"#6a35b0"},{"offset":0.75,"color":"#6a35b0"},{"offset":0.75,"color":"#ff0000"},{"offset":0.92,"color":"#ff0000"},{"offset":0.92,"color":"#6a35b0"},{"offset":1,"color":"#6a35b0"}]}},
                                        {"test": "datum.cls2 == 'Hybrid'", "value": {"gradient":"linear","x1":0,"y1":0,"x2":1,"y2":1,"stops":[{"offset":0,"color":"#00b050"},{"offset":0.17,"color":"#00b050"},{"offset":0.17,"color":"#2e75b6"},{"offset":0.25,"color":"#2e75b6"},{"offset":0.25,"color":"#00b050"},{"offset":0.42,"color":"#00b050"},{"offset":0.42,"color":"#2e75b6"},{"offset":0.5,"color":"#2e75b6"},{"offset":0.5,"color":"#00b050"},{"offset":0.67,"color":"#00b050"},{"offset":0.67,"color":"#2e75b6"},{"offset":0.75,"color":"#2e75b6"},{"offset":0.75,"color":"#00b050"},{"offset":0.92,"color":"#00b050"},{"offset":0.92,"color":"#2e75b6"},{"offset":1,"color":"#2e75b6"}]}}],
                          "field": "cls2", "type": "nominal"}}},
   {"transform": [{"filter": "datum.to"}], "mark": {"type": "rect", "xOffset": 17, "filled": false, "stroke": "black", "strokeWidth": 1.5},
    "encoding": {"x": {"datum": "o"}, "y": {"field": "site", "type": "nominal", "sort": null, "bandPosition": 0}, "y2": {"field": "to", "bandPosition": 1}}}
  ]}},
 {"data": {"name": "sites"}, "transform": [{"filter": "datum.col == 2"}],
  "title": {"text": ["Glycoprotein", "(Gene Name)"], "subtitle": "──────────────────", "anchor": "start", "frame": "group", "fontSize": 10, "fontWeight": "bold", "color": "#333", "lineHeight": 12, "subtitleFont": "DejaVu Sans", "subtitleFontSize": 10, "subtitleColor": "#777", "subtitlePadding": 8, "dx": -110, "dy": 142, "offset": 0},
  "facet": {"row": {"field": "protein", "type": "nominal", "title": null, "header": {"labels": false}}},
  "spacing": 3,
  "resolve": {"scale": {"y": "independent"}},
  "spec": {"width": 91, "height": {"step": 16}, "layer": [
   {"transform": [{"fold": ["u","f","fs","s","m","h","o"], "as": ["cat","value"]}],
    "mark": {"type": "rect", "stroke": "#cfcfcf", "strokeWidth": 1},
    "encoding": {
     "x": {"field": "cat", "type": "nominal", "scale": {"domain": ["u","f","fs","s","m","h","o"], "paddingInner": 0, "paddingOuter": 0},
           "axis": {"orient": "top", "labelAngle": -90, "labelAlign": "left", "labelBaseline": "middle", "ticks": false, "domain": false, "labelPadding": 3, "labelFontSize": 10, "labelFont": "Liberation Sans Narrow", "labelColor": "#222", "labelLimit": 0,
                    "labelExpr": "datum.value=='u'?'Complex undecorated':datum.value=='f'?'Complex fucosylated':datum.value=='fs'?'Complex fucosylated + sialylated':datum.value=='s'?'Complex sialylated':datum.value=='m'?'High mannose':datum.value=='h'?'Hybrid':'Other'",
                    "title": "Glycosite", "titleAngle": 0, "titleX": -3, "titleY": -23, "titleAlign": "right", "titleBaseline": "middle", "titleFontSize": 12, "titleFontWeight": "bold", "titleColor": "#333"}},
     "y": {"field": "site", "type": "nominal", "sort": null, "scale": {"paddingInner": 0, "paddingOuter": 0}, "axis": null},
     "color": {"field": "value", "type": "quantitative", "scale": {"domain": [0, 0.45, 1], "range": ["#ffffff", "#ffffff", "#ff0000"], "interpolate": "rgb"}}
    }},
   {"transform": [{"aggregate": [{"op": "count", "as": "n"}]}], "mark": {"type": "rect", "filled": false, "stroke": "#1a1a1a", "strokeWidth": 2}, "encoding": {}},
   {"transform": [{"window": [{"op": "row_number", "as": "r"}], "groupby": ["protein"]}, {"joinaggregate": [{"op": "count", "as": "n"}], "groupby": ["protein"]}, {"filter": "datum.r == floor(datum.n / 2) + 1 && datum.n % 2 == 1"}],
    "mark": {"type": "text", "align": "center", "baseline": "middle", "dx": -82, "fontSize": 15, "fontWeight": "bold", "color": "black"},
    "encoding": {"x": {"datum": "u", "bandPosition": 0}, "y": {"field": "site", "type": "nominal", "sort": null, "bandPosition": 0.5}, "text": {"field": "protein"}}},
   {"transform": [{"window": [{"op": "row_number", "as": "r"}], "groupby": ["protein"]}, {"joinaggregate": [{"op": "count", "as": "n"}], "groupby": ["protein"]}, {"filter": "datum.r == floor(datum.n / 2) + 1 && datum.n % 2 == 0"}],
    "mark": {"type": "text", "align": "center", "baseline": "middle", "dx": -82, "fontSize": 15, "fontWeight": "bold", "color": "black"},
    "encoding": {"x": {"datum": "u", "bandPosition": 0}, "y": {"field": "site", "type": "nominal", "sort": null, "bandPosition": 0}, "text": {"field": "protein"}}},
   {"mark": {"type": "text", "align": "right", "baseline": "middle", "dx": -11, "fontSize": 14, "fontWeight": "bold"},
    "encoding": {"x": {"datum": "u", "bandPosition": 0}, "y": {"field": "site", "type": "nominal", "sort": null}, "text": {"field": "site"},
                 "color": {"condition": {"test": "datum.hl", "value": "#ff0000"}, "value": "#000000"}}},
   {"transform": [{"filter": "!datum.cls2"}], "mark": {"type": "rect", "xOffset": 17},
    "encoding": {"x": {"datum": "o"},
                 "y": {"field": "site", "type": "nominal", "sort": null},
                 "fill": {"condition": [{"test": "datum.cls == 'Complex fucosylated + sialyated'", "value": {"gradient":"linear","x1":0,"y1":0,"x2":1,"y2":1,"stops":[{"offset":0,"color":"#ff0000"},{"offset":0.17,"color":"#ff0000"},{"offset":0.17,"color":"#6a35b0"},{"offset":0.25,"color":"#6a35b0"},{"offset":0.25,"color":"#ff0000"},{"offset":0.42,"color":"#ff0000"},{"offset":0.42,"color":"#6a35b0"},{"offset":0.5,"color":"#6a35b0"},{"offset":0.5,"color":"#ff0000"},{"offset":0.67,"color":"#ff0000"},{"offset":0.67,"color":"#6a35b0"},{"offset":0.75,"color":"#6a35b0"},{"offset":0.75,"color":"#ff0000"},{"offset":0.92,"color":"#ff0000"},{"offset":0.92,"color":"#6a35b0"},{"offset":1,"color":"#6a35b0"}]}},
                                        {"test": "datum.cls == 'Hybrid'", "value": {"gradient":"linear","x1":0,"y1":0,"x2":1,"y2":1,"stops":[{"offset":0,"color":"#00b050"},{"offset":0.17,"color":"#00b050"},{"offset":0.17,"color":"#2e75b6"},{"offset":0.25,"color":"#2e75b6"},{"offset":0.25,"color":"#00b050"},{"offset":0.42,"color":"#00b050"},{"offset":0.42,"color":"#2e75b6"},{"offset":0.5,"color":"#2e75b6"},{"offset":0.5,"color":"#00b050"},{"offset":0.67,"color":"#00b050"},{"offset":0.67,"color":"#2e75b6"},{"offset":0.75,"color":"#2e75b6"},{"offset":0.75,"color":"#00b050"},{"offset":0.92,"color":"#00b050"},{"offset":0.92,"color":"#2e75b6"},{"offset":1,"color":"#2e75b6"}]}}],
                          "field": "cls", "type": "nominal",
                          "scale": {"domain": [" ","Complex undecorated","Complex fucosylated","Complex fucosylated + sialyated","Complex sialyated","High Mannose","Hybrid","Other"], "range": ["#ffffff","#0070c0","#ff0000","#ff0000","#7030a0","#00b050","#2e9e8e","#a6a6a6"]}}}},
   {"transform": [{"filter": "datum.cls2"}], "mark": {"type": "rect", "xOffset": 13.4, "width": {"band": 0.45}, "stroke": "black", "strokeWidth": 1.2},
    "encoding": {"x": {"datum": "o"}, "y": {"field": "site", "type": "nominal", "sort": null},
                 "fill": {"condition": [{"test": "datum.cls == 'Complex fucosylated + sialyated'", "value": {"gradient":"linear","x1":0,"y1":0,"x2":1,"y2":1,"stops":[{"offset":0,"color":"#ff0000"},{"offset":0.17,"color":"#ff0000"},{"offset":0.17,"color":"#6a35b0"},{"offset":0.25,"color":"#6a35b0"},{"offset":0.25,"color":"#ff0000"},{"offset":0.42,"color":"#ff0000"},{"offset":0.42,"color":"#6a35b0"},{"offset":0.5,"color":"#6a35b0"},{"offset":0.5,"color":"#ff0000"},{"offset":0.67,"color":"#ff0000"},{"offset":0.67,"color":"#6a35b0"},{"offset":0.75,"color":"#6a35b0"},{"offset":0.75,"color":"#ff0000"},{"offset":0.92,"color":"#ff0000"},{"offset":0.92,"color":"#6a35b0"},{"offset":1,"color":"#6a35b0"}]}}],
                          "field": "cls", "type": "nominal"}}},
   {"transform": [{"filter": "datum.cls2"}], "mark": {"type": "rect", "xOffset": 20.6, "width": {"band": 0.45}, "stroke": "black", "strokeWidth": 1.2},
    "encoding": {"x": {"datum": "o"}, "y": {"field": "site", "type": "nominal", "sort": null},
                 "fill": {"condition": [{"test": "datum.cls2 == 'Complex fucosylated + sialyated'", "value": {"gradient":"linear","x1":0,"y1":0,"x2":1,"y2":1,"stops":[{"offset":0,"color":"#ff0000"},{"offset":0.17,"color":"#ff0000"},{"offset":0.17,"color":"#6a35b0"},{"offset":0.25,"color":"#6a35b0"},{"offset":0.25,"color":"#ff0000"},{"offset":0.42,"color":"#ff0000"},{"offset":0.42,"color":"#6a35b0"},{"offset":0.5,"color":"#6a35b0"},{"offset":0.5,"color":"#ff0000"},{"offset":0.67,"color":"#ff0000"},{"offset":0.67,"color":"#6a35b0"},{"offset":0.75,"color":"#6a35b0"},{"offset":0.75,"color":"#ff0000"},{"offset":0.92,"color":"#ff0000"},{"offset":0.92,"color":"#6a35b0"},{"offset":1,"color":"#6a35b0"}]}},
                                        {"test": "datum.cls2 == 'Hybrid'", "value": {"gradient":"linear","x1":0,"y1":0,"x2":1,"y2":1,"stops":[{"offset":0,"color":"#00b050"},{"offset":0.17,"color":"#00b050"},{"offset":0.17,"color":"#2e75b6"},{"offset":0.25,"color":"#2e75b6"},{"offset":0.25,"color":"#00b050"},{"offset":0.42,"color":"#00b050"},{"offset":0.42,"color":"#2e75b6"},{"offset":0.5,"color":"#2e75b6"},{"offset":0.5,"color":"#00b050"},{"offset":0.67,"color":"#00b050"},{"offset":0.67,"color":"#2e75b6"},{"offset":0.75,"color":"#2e75b6"},{"offset":0.75,"color":"#00b050"},{"offset":0.92,"color":"#00b050"},{"offset":0.92,"color":"#2e75b6"},{"offset":1,"color":"#2e75b6"}]}}],
                          "field": "cls2", "type": "nominal"}}},
   {"transform": [{"filter": "datum.to"}], "mark": {"type": "rect", "xOffset": 17, "filled": false, "stroke": "black", "strokeWidth": 1.5},
    "encoding": {"x": {"datum": "o"}, "y": {"field": "site", "type": "nominal", "sort": null, "bandPosition": 0}, "y2": {"field": "to", "bandPosition": 1}}}
  ]}},
 {"data": {"name": "sites"}, "transform": [{"filter": "datum.col == 3"}],
  "title": {"text": ["Glycoprotein", "(Gene Name)"], "subtitle": "──────────────────", "anchor": "start", "frame": "group", "fontSize": 10, "fontWeight": "bold", "color": "#333", "lineHeight": 12, "subtitleFont": "DejaVu Sans", "subtitleFontSize": 10, "subtitleColor": "#777", "subtitlePadding": 8, "dx": -110, "dy": 142, "offset": 0},
  "facet": {"row": {"field": "protein", "type": "nominal", "title": null, "header": {"labels": false}}},
  "spacing": 3,
  "resolve": {"scale": {"y": "independent"}},
  "spec": {"width": 91, "height": {"step": 16}, "layer": [
   {"transform": [{"fold": ["u","f","fs","s","m","h","o"], "as": ["cat","value"]}],
    "mark": {"type": "rect", "stroke": "#cfcfcf", "strokeWidth": 1},
    "encoding": {
     "x": {"field": "cat", "type": "nominal", "scale": {"domain": ["u","f","fs","s","m","h","o"], "paddingInner": 0, "paddingOuter": 0},
           "axis": {"orient": "top", "labelAngle": -90, "labelAlign": "left", "labelBaseline": "middle", "ticks": false, "domain": false, "labelPadding": 3, "labelFontSize": 10, "labelFont": "Liberation Sans Narrow", "labelColor": "#222", "labelLimit": 0,
                    "labelExpr": "datum.value=='u'?'Complex undecorated':datum.value=='f'?'Complex fucosylated':datum.value=='fs'?'Complex fucosylated + sialylated':datum.value=='s'?'Complex sialylated':datum.value=='m'?'High Mannose':datum.value=='h'?'Hybrid':'Other'",
                    "title": "Glycosite", "titleAngle": 0, "titleX": -3, "titleY": -23, "titleAlign": "right", "titleBaseline": "middle", "titleFontSize": 12, "titleFontWeight": "bold", "titleColor": "#333"}},
     "y": {"field": "site", "type": "nominal", "sort": null, "scale": {"paddingInner": 0, "paddingOuter": 0}, "axis": null},
     "color": {"field": "value", "type": "quantitative", "scale": {"domain": [0, 0.45, 1], "range": ["#ffffff", "#ffffff", "#ff0000"], "interpolate": "rgb"}}
    }},
   {"transform": [{"aggregate": [{"op": "count", "as": "n"}]}], "mark": {"type": "rect", "filled": false, "stroke": "#1a1a1a", "strokeWidth": 2}, "encoding": {}},
   {"transform": [{"window": [{"op": "row_number", "as": "r"}], "groupby": ["protein"]}, {"joinaggregate": [{"op": "count", "as": "n"}], "groupby": ["protein"]}, {"filter": "datum.r == floor(datum.n / 2) + 1 && datum.n % 2 == 1"}],
    "mark": {"type": "text", "align": "center", "baseline": "middle", "dx": -84, "fontSize": 15, "fontWeight": "bold", "color": "black"},
    "encoding": {"x": {"datum": "u", "bandPosition": 0}, "y": {"field": "site", "type": "nominal", "sort": null, "bandPosition": 0.5}, "text": {"field": "protein"}}},
   {"transform": [{"window": [{"op": "row_number", "as": "r"}], "groupby": ["protein"]}, {"joinaggregate": [{"op": "count", "as": "n"}], "groupby": ["protein"]}, {"filter": "datum.r == floor(datum.n / 2) + 1 && datum.n % 2 == 0"}],
    "mark": {"type": "text", "align": "center", "baseline": "middle", "dx": -84, "fontSize": 15, "fontWeight": "bold", "color": "black"},
    "encoding": {"x": {"datum": "u", "bandPosition": 0}, "y": {"field": "site", "type": "nominal", "sort": null, "bandPosition": 0}, "text": {"field": "protein"}}},
   {"mark": {"type": "text", "align": "right", "baseline": "middle", "dx": -11, "fontSize": 14, "fontWeight": "bold"},
    "encoding": {"x": {"datum": "u", "bandPosition": 0}, "y": {"field": "site", "type": "nominal", "sort": null}, "text": {"field": "site"},
                 "color": {"condition": {"test": "datum.hl", "value": "#ff0000"}, "value": "#000000"}}},
   {"transform": [{"filter": "!datum.cls2"}], "mark": {"type": "rect", "xOffset": 17},
    "encoding": {"x": {"datum": "o"},
                 "y": {"field": "site", "type": "nominal", "sort": null},
                 "fill": {"condition": [{"test": "datum.cls == 'Complex fucosylated + sialyated'", "value": {"gradient":"linear","x1":0,"y1":0,"x2":1,"y2":1,"stops":[{"offset":0,"color":"#ff0000"},{"offset":0.17,"color":"#ff0000"},{"offset":0.17,"color":"#6a35b0"},{"offset":0.25,"color":"#6a35b0"},{"offset":0.25,"color":"#ff0000"},{"offset":0.42,"color":"#ff0000"},{"offset":0.42,"color":"#6a35b0"},{"offset":0.5,"color":"#6a35b0"},{"offset":0.5,"color":"#ff0000"},{"offset":0.67,"color":"#ff0000"},{"offset":0.67,"color":"#6a35b0"},{"offset":0.75,"color":"#6a35b0"},{"offset":0.75,"color":"#ff0000"},{"offset":0.92,"color":"#ff0000"},{"offset":0.92,"color":"#6a35b0"},{"offset":1,"color":"#6a35b0"}]}},
                                        {"test": "datum.cls == 'Hybrid'", "value": {"gradient":"linear","x1":0,"y1":0,"x2":1,"y2":1,"stops":[{"offset":0,"color":"#00b050"},{"offset":0.17,"color":"#00b050"},{"offset":0.17,"color":"#2e75b6"},{"offset":0.25,"color":"#2e75b6"},{"offset":0.25,"color":"#00b050"},{"offset":0.42,"color":"#00b050"},{"offset":0.42,"color":"#2e75b6"},{"offset":0.5,"color":"#2e75b6"},{"offset":0.5,"color":"#00b050"},{"offset":0.67,"color":"#00b050"},{"offset":0.67,"color":"#2e75b6"},{"offset":0.75,"color":"#2e75b6"},{"offset":0.75,"color":"#00b050"},{"offset":0.92,"color":"#00b050"},{"offset":0.92,"color":"#2e75b6"},{"offset":1,"color":"#2e75b6"}]}}],
                          "field": "cls", "type": "nominal",
                          "scale": {"domain": [" ","Complex undecorated","Complex fucosylated","Complex fucosylated + sialyated","Complex sialyated","High Mannose","Hybrid","Other"], "range": ["#ffffff","#0070c0","#ff0000","#ff0000","#7030a0","#00b050","#2e9e8e","#a6a6a6"]}}}},
   {"transform": [{"filter": "datum.cls2"}], "mark": {"type": "rect", "xOffset": 13.4, "width": {"band": 0.45}, "stroke": "black", "strokeWidth": 1.2},
    "encoding": {"x": {"datum": "o"}, "y": {"field": "site", "type": "nominal", "sort": null},
                 "fill": {"condition": [{"test": "datum.cls == 'Complex fucosylated + sialyated'", "value": {"gradient":"linear","x1":0,"y1":0,"x2":1,"y2":1,"stops":[{"offset":0,"color":"#ff0000"},{"offset":0.17,"color":"#ff0000"},{"offset":0.17,"color":"#6a35b0"},{"offset":0.25,"color":"#6a35b0"},{"offset":0.25,"color":"#ff0000"},{"offset":0.42,"color":"#ff0000"},{"offset":0.42,"color":"#6a35b0"},{"offset":0.5,"color":"#6a35b0"},{"offset":0.5,"color":"#ff0000"},{"offset":0.67,"color":"#ff0000"},{"offset":0.67,"color":"#6a35b0"},{"offset":0.75,"color":"#6a35b0"},{"offset":0.75,"color":"#ff0000"},{"offset":0.92,"color":"#ff0000"},{"offset":0.92,"color":"#6a35b0"},{"offset":1,"color":"#6a35b0"}]}}],
                          "field": "cls", "type": "nominal"}}},
   {"transform": [{"filter": "datum.cls2"}], "mark": {"type": "rect", "xOffset": 20.6, "width": {"band": 0.45}, "stroke": "black", "strokeWidth": 1.2},
    "encoding": {"x": {"datum": "o"}, "y": {"field": "site", "type": "nominal", "sort": null},
                 "fill": {"condition": [{"test": "datum.cls2 == 'Complex fucosylated + sialyated'", "value": {"gradient":"linear","x1":0,"y1":0,"x2":1,"y2":1,"stops":[{"offset":0,"color":"#ff0000"},{"offset":0.17,"color":"#ff0000"},{"offset":0.17,"color":"#6a35b0"},{"offset":0.25,"color":"#6a35b0"},{"offset":0.25,"color":"#ff0000"},{"offset":0.42,"color":"#ff0000"},{"offset":0.42,"color":"#6a35b0"},{"offset":0.5,"color":"#6a35b0"},{"offset":0.5,"color":"#ff0000"},{"offset":0.67,"color":"#ff0000"},{"offset":0.67,"color":"#6a35b0"},{"offset":0.75,"color":"#6a35b0"},{"offset":0.75,"color":"#ff0000"},{"offset":0.92,"color":"#ff0000"},{"offset":0.92,"color":"#6a35b0"},{"offset":1,"color":"#6a35b0"}]}},
                                        {"test": "datum.cls2 == 'Hybrid'", "value": {"gradient":"linear","x1":0,"y1":0,"x2":1,"y2":1,"stops":[{"offset":0,"color":"#00b050"},{"offset":0.17,"color":"#00b050"},{"offset":0.17,"color":"#2e75b6"},{"offset":0.25,"color":"#2e75b6"},{"offset":0.25,"color":"#00b050"},{"offset":0.42,"color":"#00b050"},{"offset":0.42,"color":"#2e75b6"},{"offset":0.5,"color":"#2e75b6"},{"offset":0.5,"color":"#00b050"},{"offset":0.67,"color":"#00b050"},{"offset":0.67,"color":"#2e75b6"},{"offset":0.75,"color":"#2e75b6"},{"offset":0.75,"color":"#00b050"},{"offset":0.92,"color":"#00b050"},{"offset":0.92,"color":"#2e75b6"},{"offset":1,"color":"#2e75b6"}]}}],
                          "field": "cls2", "type": "nominal"}}},
   {"transform": [{"filter": "datum.to"}], "mark": {"type": "rect", "xOffset": 17, "filled": false, "stroke": "black", "strokeWidth": 1.5},
    "encoding": {"x": {"datum": "o"}, "y": {"field": "site", "type": "nominal", "sort": null, "bandPosition": 0}, "y2": {"field": "to", "bandPosition": 1}}}
  ]}}
]
}
